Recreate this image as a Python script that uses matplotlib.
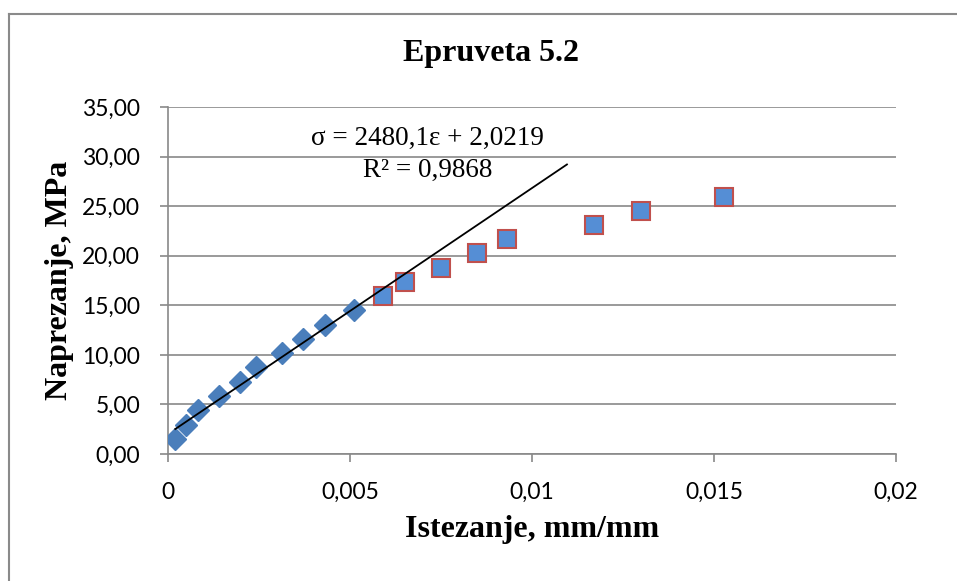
import matplotlib
matplotlib.use("Agg")
import matplotlib.pyplot as plt
import numpy as np
from matplotlib.lines import Line2D

# Data
strain_elastic = [0.00019, 0.00049, 0.00082, 0.0014, 0.00198, 0.00241, 0.00312, 0.0037, 0.0043, 0.00511]
stress_elastic = [1.51, 2.92, 4.44, 5.85, 7.29, 8.74, 10.15, 11.59, 13.03, 14.52]
strain_plastic = [0.0059, 0.0065, 0.0075, 0.0085, 0.0093, 0.0117, 0.0130, 0.01528]
stress_plastic = [15.93, 17.37, 18.78, 20.23, 21.64, 23.08, 24.53, 25.94]
fit_slope = 2480.1
fit_intercept = 2.0219
fit_range = [0.0002, 0.01096]
x_ticks = [0, 0.005, 0.01, 0.015, 0.02]
x_tick_labels = ["0", "0,005", "0,01", "0,015", "0,02"]
y_ticks = [0, 5, 10, 15, 20, 25, 30, 35]
y_tick_labels = ["0,00", "5,00", "10,00", "15,00", "20,00", "25,00", "30,00", "35,00"]

serif = ["Liberation Serif", "DejaVu Serif"]
sans = ["Lato", "DejaVu Sans"]
grid_c = "#898989"

fig = plt.figure(figsize=(9.57, 5.81), dpi=100)
ax = fig.add_axes([168/957, 1-454/581, (896-168)/957, (454-107)/581])

# outer chart border (left and top visible)
fig.add_artist(Line2D([9/957, 9/957], [0, 1-14/581], transform=fig.transFigure, color="#8a8a8a", lw=1.5))
fig.add_artist(Line2D([9/957, 1], [1-14/581, 1-14/581], transform=fig.transFigure, color="#8a8a8a", lw=1.5))

ax.set_xlim(0, 0.02)
ax.set_ylim(0, 35)
ax.set_yticks(y_ticks)
ax.set_yticklabels(y_tick_labels, fontfamily=sans, fontsize=16.5)
ax.set_xticks(x_ticks)
ax.set_xticklabels(x_tick_labels, fontfamily=sans, fontsize=16.5)
ax.grid(axis="y", color=grid_c, lw=1.2)
ax.set_axisbelow(True)
for s in ["top", "right"]:
    ax.spines[s].set_visible(False)
for s in ["left", "bottom"]:
    ax.spines[s].set_color(grid_c)
    ax.spines[s].set_linewidth(1.2)
ax.tick_params(axis="both", direction="out", color=grid_c, width=1.2, length=6)
ax.tick_params(axis="x", pad=14)
ax.tick_params(axis="y", pad=14)

ax.plot(strain_elastic, stress_elastic, linestyle="none", marker="D", markersize=10.8,
        color="#4A7EBB", markeredgecolor="#4A7EBB", zorder=3)
ax.plot(strain_plastic, stress_plastic, linestyle="none", marker="s", markersize=13.5,
        markerfacecolor="#558ED5", markeredgecolor="#C0504D", markeredgewidth=1.5, zorder=3)

fx = np.array(fit_range)
ax.plot(fx, fit_slope*fx + fit_intercept, color="black", lw=1.3, zorder=4)

ax.text(0.00714, 31.8, "σ = 2480,1ε + 2,0219", fontfamily=serif, fontsize=19.5, ha="center", va="center")
ax.text(0.00714, 28.6, "R² = 0,9868", fontfamily=serif, fontsize=19.5, ha="center", va="center")

fig.text(491/957, 1-53/581, "Epruveta 5.2", fontfamily=serif, fontsize=23, fontweight="bold", ha="center", va="center")
fig.text(532/957, 1-530/581, "Istezanje, mm/mm", fontfamily=serif, fontsize=23, fontweight="bold", ha="center", va="center")
fig.text(60/957, 1-280/581, "Naprezanje, MPa", fontfamily=serif, fontsize=23, fontweight="bold", ha="center", va="center", rotation=90)

fig.savefig("out.png", dpi=100)
